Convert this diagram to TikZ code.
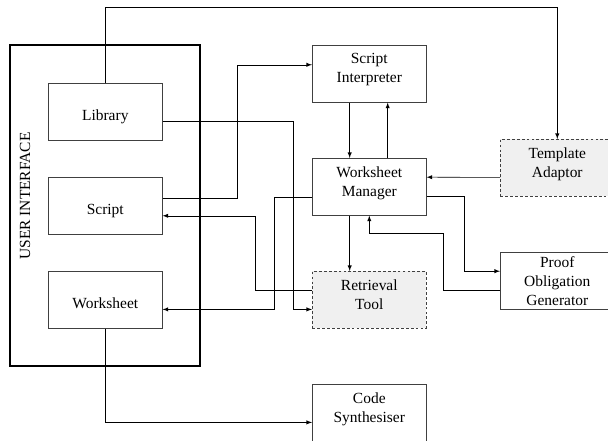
\documentclass[tikz,border=0pt]{standalone}
\usepackage{fontspec}
\setmainfont{Liberation Serif}
\tikzset{
  module/.style={draw=black!75,thin,minimum width=2.85cm,minimum height=1.425cm,align=center,inner sep=1pt,
    font=\fontsize{11}{13.5}\selectfont,anchor=north west},
  toolbox/.style={module,dash pattern=on 2pt off 1.5pt,fill=black!6},
  lowtext/.style={text height=14.5pt,text depth=2.5pt},
  hightext/.style={text depth=8pt},
  flow/.style={-latex,thin},
}
\begin{document}
\begin{tikzpicture}[x=0.025cm,y=-0.025cm]
  \useasboundingbox (0,0) rectangle (608,441);
  \clip (0,0) rectangle (608,441);
  % user interface
  \node[draw,line width=1.1pt,minimum width=4.75cm,minimum height=8.025cm,anchor=north west](ui)at(9,44){};
  \node[rotate=90,font=\fontsize{11}{13.5}\selectfont](uilabel)at(25,196){USER INTERFACE};
  \node[module,lowtext](lib)at(48,83){Library};
  \node[module,lowtext](scr)at(48,177){Script};
  \node[module,lowtext](ws)at(48,271){Worksheet};
  % tools
  \node[module,hightext](si)at(312,45){Script\\Interpreter};
  \node[module,hightext](wm)at(312,158){Worksheet\\Manager};
  \node[toolbox,hightext](rt)at(312,271){Retrieval\\Tool};
  \node[module,hightext](cs)at(312,384){Code\\Synthesiser};
  \node[toolbox,hightext](ta)at(500,139){Template\\Adaptor};
  \node[module](pog)at(500,252){Proof\\Obligation\\Generator};
  % connections
  \draw[flow](lib.north)--++(0,-76)-|(ta.north);
  \draw[flow]([yshift=0.2cm]scr.east)--++(75,0)|-([yshift=0.225cm]si.west);
  \draw[flow]([yshift=-0.225cm]lib.east)--++(131,0)|-([yshift=-0.24cm]rt.west);
  \draw[flow]([yshift=-0.26cm]wm.west)--++(-38,0)|-([yshift=-0.24cm]ws.east);
  \draw[flow]([yshift=0.24cm]rt.west)--++(-57,0)|-([yshift=-0.25cm]scr.east);
  \draw[flow](ws.south)|-([yshift=-0.24cm]cs.west);
  \draw[flow]([xshift=-0.49cm]si.south)--([xshift=-0.49cm]wm.north);
  \draw[flow]([xshift=0.46cm]wm.north)--([xshift=0.46cm]si.south);
  \draw[flow]([yshift=-0.24cm]ta.west)--([yshift=0.24cm]wm.east);
  \draw[flow]([yshift=-0.24cm]wm.east)--++(38,0)|-([yshift=0.24cm]pog.west);
  \draw[flow]([yshift=-0.24cm]pog.west)--++(-57,0)--++(0,-57)-|(wm.south);
  \draw[flow]([xshift=-0.49cm]wm.south)--([xshift=-0.49cm]rt.north);
\end{tikzpicture}
\end{document}
